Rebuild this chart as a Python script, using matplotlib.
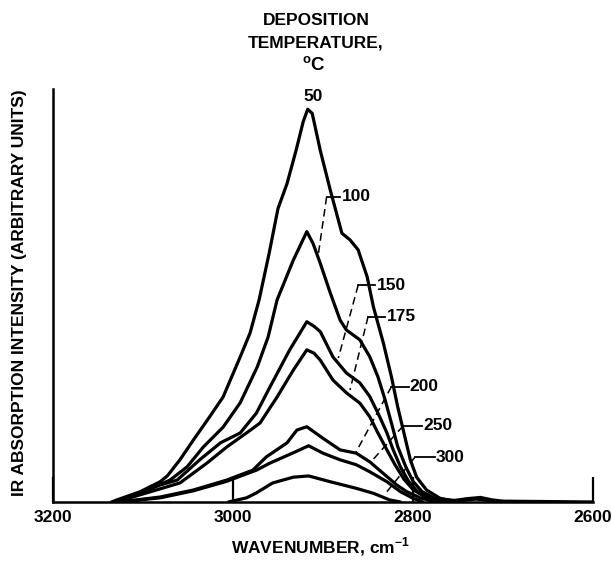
import matplotlib
matplotlib.use("Agg")
import matplotlib.pyplot as plt

# IR spectra (C-H stretch region)
wn_50 = [3135, 3129, 3103, 3081, 3073, 3059, 3044, 3026, 3011, 2992, 2981, 2971, 2960, 2950, 2940, 2930,
         2922, 2917, 2912, 2903, 2892, 2879, 2870, 2861, 2851, 2844, 2833, 2824, 2817, 2809, 2803, 2796,
         2785, 2770, 2756, 2740, 2725, 2712, 2700, 2600]
ir_50 = [0, 0.5, 2.5, 4.9, 6.3, 10.2, 15.0, 20.6, 25.4, 35.1, 40.9, 48.9, 60, 71, 77, 85,
         92, 95, 94, 85, 75.5, 65, 63.4, 61, 54.5, 47.2, 38.5, 30.3, 23.0, 15.7, 10.2, 6.0,
         2.9, 0.9, 0.3, 0.8, 1.1, 0.5, 0.2, 0]

wn_100 = [3130, 3103, 3070, 3051, 3033, 3011, 2992, 2973, 2961, 2951, 2933, 2918, 2911, 2903, 2892,
          2881, 2874, 2859, 2848, 2839, 2831, 2824, 2817, 2808, 2800, 2790, 2775, 2750, 2730, 2700]
ir_100 = [0, 2.1, 5.3, 8.5, 13.3, 18.1, 24.0, 32.7, 39.9, 48.9, 58.5, 65.4, 62.5, 57.7, 50.6,
          44.0, 41.6, 39.2, 35.1, 30.3, 24.7, 19.1, 13.4, 8.5, 5.0, 2.5, 0.8, 0.3, 0.7, 0]

wn_150 = [3130, 3081, 3062, 3037, 3014, 2992, 2974, 2959, 2937, 2918, 2910, 2903, 2889, 2874, 2859,
          2848, 2837, 2829, 2822, 2814, 2805, 2795, 2780, 2760]
ir_150 = [0, 4.1, 5.3, 10.2, 14.3, 16.7, 21.5, 27.8, 36.8, 43.6, 42.5, 41.2, 35.1, 31.2, 28.8,
          25.5, 20.6, 16.7, 12.6, 8.5, 5.0, 2.5, 0.8, 0]

wn_175 = [3130, 3059, 3029, 3007, 2985, 2970, 2951, 2933, 2918, 2910, 2903, 2889, 2874, 2859, 2848,
          2839, 2829, 2820, 2810, 2800, 2785, 2765]
ir_175 = [0, 4.6, 9.4, 13.3, 16.7, 19.1, 25.4, 31.9, 36.8, 36.0, 34.3, 29.5, 26.4, 23.9, 20.6,
          16.7, 12.6, 9.0, 5.5, 3.0, 1.0, 0]

wn_200 = [3126, 3081, 3044, 3007, 2978, 2963, 2940, 2929, 2918, 2900, 2881, 2863, 2848, 2833, 2818,
          2807, 2792, 2775]
ir_200 = [0, 1.2, 2.9, 5.3, 7.7, 10.9, 14.3, 17.4, 18.2, 15.4, 12.6, 11.8, 9.7, 6.9, 4.1,
          2.5, 1.0, 0]

wn_250 = [3126, 3081, 3044, 3007, 2974, 2959, 2933, 2916, 2900, 2881, 2863, 2848, 2829, 2814, 2800, 2789]
ir_250 = [0, 1.0, 2.7, 5.0, 7.7, 9.4, 11.9, 13.6, 11.8, 10.2, 9.0, 7.3, 4.9, 2.5, 0.9, 0]

wn_300 = [3005, 2985, 2974, 2956, 2933, 2916, 2892, 2863, 2844, 2826, 2814]
ir_300 = [0, 1.0, 2.2, 4.6, 6.0, 6.3, 4.9, 3.3, 2.1, 0.5, 0]

# labels: text, tick start/end, dashed end on curve (wavenumber, intensity)
temps = ['100', '150', '175', '200', '250', '300']
tick_x0 = [2896, 2861, 2850, 2824, 2811, 2798]
tick_x1 = [2881, 2842, 2831, 2805, 2790, 2776]
tick_y = [73.8, 52.4, 44.8, 27.9, 18.4, 10.8]
lead_x = [2905, 2883, 2870, 2864, 2848, 2829]
lead_y = [60.2, 34.8, 27.1, 11.8, 9.4, 2.5]

xticks = [3200, 3000, 2800, 2600]

plt.rcParams['font.family'] = ['Liberation Sans', 'DejaVu Sans']
plt.rcParams['font.weight'] = 'bold'
plt.rcParams['mathtext.fontset'] = 'custom'
plt.rcParams['mathtext.rm'] = 'Liberation Sans:bold'
plt.rcParams['mathtext.bf'] = 'Liberation Sans:bold'

fs = 12.5

fig = plt.figure(figsize=(6.12, 5.61), dpi=100)
ax = fig.add_axes([0.0866, 0.1052, 0.8824, 0.7369])

for wn, ir in [(wn_50, ir_50), (wn_100, ir_100), (wn_150, ir_150), (wn_175, ir_175),
               (wn_200, ir_200), (wn_250, ir_250), (wn_300, ir_300)]:
    ax.plot(wn, ir, color='black', lw=2.3, solid_joinstyle='round', solid_capstyle='round')

for i in range(len(temps)):
    ax.plot([tick_x0[i], tick_x1[i]], [tick_y[i], tick_y[i]], color='black', lw=1.3)
    ax.plot([tick_x0[i], lead_x[i]], [tick_y[i], lead_y[i]], color='black', lw=1.1,
            dashes=(5, 3))
    ax.text(tick_x1[i] - 1.5, tick_y[i], temps[i], fontsize=fs, fontweight='bold',
            ha='left', va='center')

ax.text(2911, 98, '50', fontsize=fs, fontweight='bold', ha='center', va='center')

ax.set_xlim(3200, 2600)
ax.set_ylim(0, 100)
ax.set_xticks(xticks)
ax.set_xticklabels([str(t) for t in xticks], fontsize=fs, fontweight='bold')
ax.set_yticks([])
ax.tick_params(axis='x', direction='in', length=18, width=1.6, pad=6)
ax.spines['top'].set_visible(False)
ax.spines['right'].set_visible(False)
ax.spines['left'].set_linewidth(1.8)
ax.spines['bottom'].set_linewidth(1.8)

fig.text(20 / 612, 1 - 293 / 561, 'IR ABSORPTION INTENSITY (ARBITRARY UNITS)', rotation=90,
         fontsize=fs, fontweight='bold', ha='center', va='center')
fig.text(320 / 612, 1 - 553 / 561, r'WAVENUMBER, cm$^{-1}$', fontsize=fs, fontweight='bold',
         ha='center', va='baseline')

fig.text(316 / 612, 1 - 25 / 561, 'DEPOSITION', fontsize=fs, fontweight='bold', ha='center', va='baseline')
fig.text(316 / 612, 1 - 47 / 561, 'TEMPERATURE,', fontsize=fs, fontweight='bold', ha='center', va='baseline')
fig.text(314 / 612, 1 - 71 / 561, r'$^{\mathrm{o}}$C', fontsize=fs + 1, fontweight='bold', ha='center', va='baseline')

fig.savefig('out.png', dpi=100)
